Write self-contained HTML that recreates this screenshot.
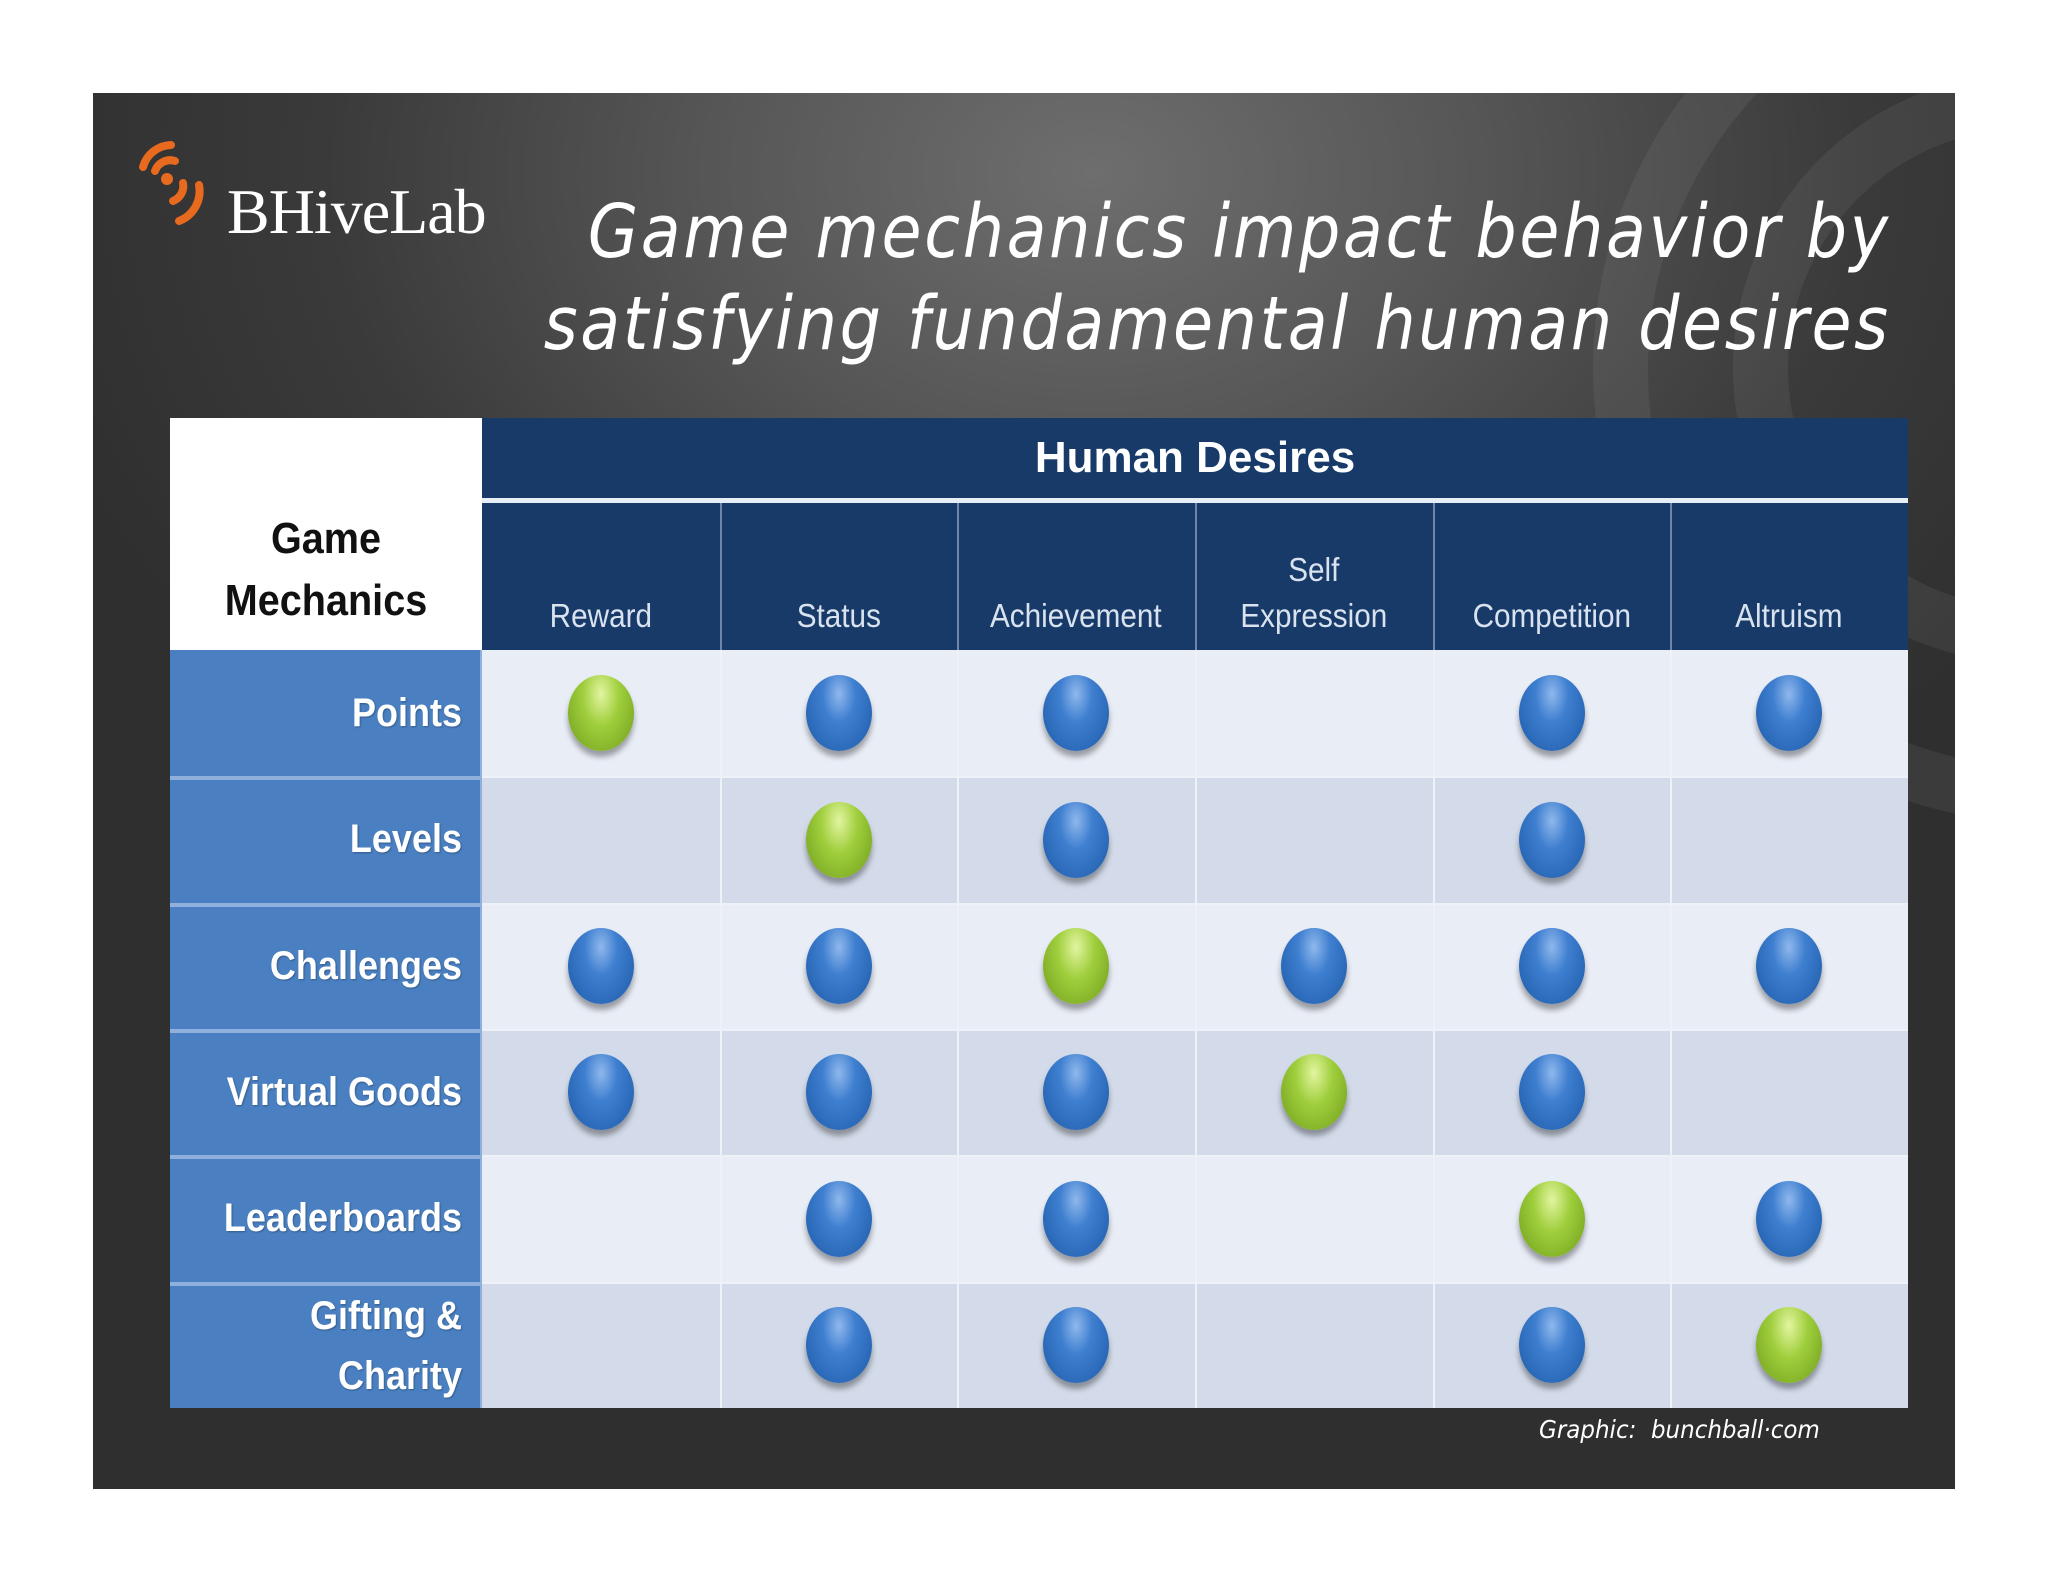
<!DOCTYPE html>
<html><head><meta charset="utf-8">
<style>
html,body{margin:0;padding:0;background:#fff;}
#root{position:relative;width:2048px;height:1582px;overflow:hidden;background:#fff;font-family:"Liberation Sans",sans-serif;}
#panel{position:absolute;left:93px;top:93px;width:1862px;height:1396px;background:radial-gradient(ellipse 1100px 800px at 1000px 80px,#6e6e6e 0%,#565656 35%,#3a3a3a 70%,#2f2f2f 100%);overflow:hidden;}
.arc{position:absolute;border-radius:50%;border:solid rgba(255,255,255,0.06);}
.title{position:absolute;right:64px;color:#fff;font-family:"DejaVu Sans",sans-serif;font-style:oblique;font-size:74px;letter-spacing:3px;white-space:nowrap;transform:scaleX(0.88);transform-origin:right;}
.cell{position:absolute;box-sizing:border-box;}
.hd{position:absolute;color:#d9e2ef;font-size:33px;text-align:center;transform:scaleX(0.9);}
.rl{position:absolute;color:#fff;font-weight:bold;font-size:40px;text-align:right;transform:scaleX(0.9);transform-origin:right;text-shadow:1px 1px 2px rgba(0,0,0,0.3);line-height:60px;}
.dot{position:absolute;width:66px;height:76px;border-radius:50%;box-shadow:0 6px 6px rgba(0,0,0,0.35);}
.blue{background:radial-gradient(ellipse at 50% 25%,#8fb8ec 0%,#3f7fd0 35%,#1d5aa8 100%);}
.green{background:radial-gradient(ellipse at 50% 25%,#e2f5a0 0%,#9fce3c 40%,#6f9e1c 100%);}
</style></head>
<body>
<div id="root">
<div id="panel">
  <div class="arc" style="left:1640px;top:-20px;width:480px;height:480px;border-width:55px;"></div>
  <div class="arc" style="left:1500px;top:-180px;width:800px;height:800px;border-width:55px;"></div>
  <svg style="position:absolute;left:32px;top:38px" width="100" height="110">
    <g fill="none" stroke="#e86a1f" stroke-linecap="round">
      <circle cx="42" cy="48" r="6" fill="#e86a1f" stroke="none"/>
      <path d="M30 40 A16 16 0 0 1 50 30" stroke-width="8"/>
      <path d="M18 36 A30 30 0 0 1 46 14" stroke-width="8"/>
      <path d="M58 52 A16 16 0 0 1 48 70" stroke-width="8"/>
      <path d="M74 54 A32 32 0 0 1 54 90" stroke-width="8"/>
    </g>
  </svg>
  <div style="position:absolute;left:134px;top:82px;color:#fff;font-family:'Liberation Serif',serif;font-size:64px;letter-spacing:-1px;">BHiveLab</div>
  <div class="title" style="top:96px;">Game mechanics impact behavior by</div>
  <div class="title" style="top:188px;">satisfying fundamental human desires</div>
  <div style="position:absolute;left:1446px;top:1322px;color:#fff;font-family:'DejaVu Sans',sans-serif;font-style:oblique;font-size:25px;transform:scaleX(0.92);transform-origin:left;">Graphic:&nbsp; bunchball·com</div>
</div>
<div id="table" style="position:absolute;left:170px;top:650px;width:1738px;height:758px;background:#eef2f8;"></div>
</div>
<script>
const categories=["Reward","Status","Achievement","Self\nExpression","Competition","Altruism"];
const rowLabels=["Points","Levels","Challenges","Virtual Goods","Leaderboards","Gifting &\nCharity"];
// 0 = none, 1 = blue (related), 2 = green (primary)
const rowPoints=[2,1,1,0,1,1];
const rowLevels=[0,2,1,0,1,0];
const rowChallenges=[1,1,2,1,1,1];
const rowVirtualGoods=[1,1,1,2,1,0];
const rowLeaderboards=[0,1,1,0,2,1];
const rowGifting=[0,1,1,0,1,2];
const matrix=[rowPoints,rowLevels,rowChallenges,rowVirtualGoods,rowLeaderboards,rowGifting];

const root=document.getElementById('root');
const T={left:170,top:418,right:1908,bottom:1408,labelW:312,bandH:80,headTop:503,bodyTop:650};
const colW=(T.right-T.left-T.labelW)/categories.length;
const rowH=(T.bottom-T.bodyTop)/rowLabels.length;
const xCol=i=>T.left+T.labelW+i*colW;
const yRow=j=>T.bodyTop+j*rowH;
function add(cls,style,name){const d=document.createElement('div');d.className=cls;d.style.cssText=style;


root.appendChild(d);return d;}
add('cell',`left:${T.left}px;top:${T.top}px;width:${T.labelW}px;height:${T.bodyTop-T.top}px;background:#fff;`,'corner-cell');
const gm=add('cell',`left:${T.left}px;top:${T.top+90}px;width:${T.labelW}px;text-align:center;font-weight:bold;font-size:44px;line-height:62px;color:#111;transform:scaleX(0.9);`,'row-header-title');
gm.innerHTML='Game<br>Mechanics';
add('cell',`left:${xCol(0)}px;top:${T.top}px;width:${T.right-xCol(0)}px;height:${T.bodyTop-T.top}px;background:#6f86a8;`,'header-bg');
const band=add('cell',`left:${xCol(0)}px;top:${T.top}px;width:${T.right-xCol(0)}px;height:${T.bandH}px;background:#173a69;color:#fff;font-weight:bold;font-size:44px;text-align:center;line-height:80px;`,'column-group-header');
band.textContent='Human Desires';
categories.forEach((c,i)=>{
  add('cell',`left:${xCol(i)+(i?2:0)}px;top:${T.headTop}px;width:${colW-(i?2:0)}px;height:${T.bodyTop-T.headTop}px;background:#173a69;`,'column-header-cell');
  const h=add('hd',`left:${xCol(i)}px;top:${T.headTop+(c.includes('\n')?44:90)}px;width:${colW}px;line-height:46px;`,'column-header-'+i);
  h.innerHTML=c.replace('\n','<br>');
});
add('cell',`left:${xCol(0)}px;top:${T.top+T.bandH}px;width:${T.right-xCol(0)}px;height:5px;background:#e8eef6;`,'header-divider');
add('cell',`left:${T.left}px;top:${T.bodyTop}px;width:${T.labelW}px;height:${T.bottom-T.bodyTop}px;background:#8fb0dc;`,'row-label-bg');
rowLabels.forEach((r,j)=>{
  add('cell',`left:${T.left}px;top:${yRow(j)+(j?4:0)}px;width:${T.labelW-2}px;height:${rowH-(j?4:0)}px;background:#4a80c2;`,'row-label-cell');
  const l=add('rl',`left:${T.left}px;top:${yRow(j)+(r.includes('\n')?4:33)}px;width:${T.labelW-20}px;`,'row-label-'+j);
  l.innerHTML=r.replace('\n','<br>');
  categories.forEach((c,i)=>{
    add('cell',`left:${xCol(i)+(i?2:0)}px;top:${yRow(j)+(j?2:0)}px;width:${colW-(i?2:0)}px;height:${rowH-(j?2:0)}px;background:${j%2?'#d3dbea':'#e9edf6'};`,'matrix-cell');
    const v=matrix[j][i];
    if(v){add('dot '+(v===2?'green':'blue'),`left:${xCol(i)+colW/2-33}px;top:${yRow(j)+rowH/2-38}px;`,v===2?'primary-dot':'related-dot');}
  });
});
</script>
</body></html>
